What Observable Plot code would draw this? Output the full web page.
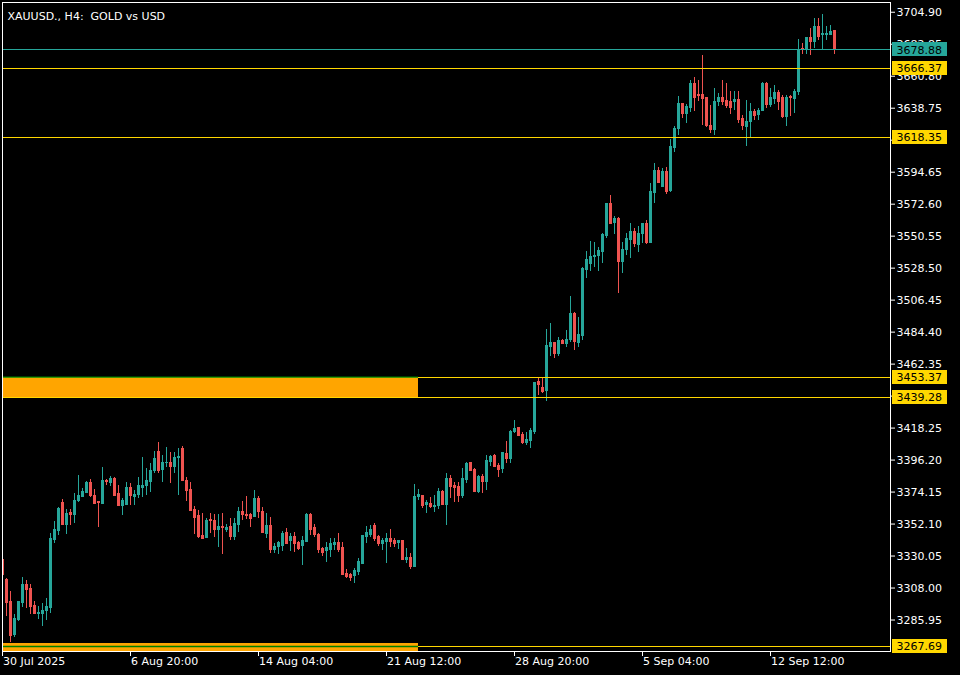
<!DOCTYPE html>
<html>
<head>
<meta charset="utf-8">
<script src="https://cdn.jsdelivr.net/npm/d3@7"></script>
<script src="https://cdn.jsdelivr.net/npm/@observablehq/plot@0.6"></script>
<style>
  html, body { margin: 0; padding: 0; background: #000; }
  #chart { width: 960px; height: 675px; }
  svg text { white-space: pre; }
</style>
</head>
<body>
<div id="chart"></div>
<script>
// XAUUSD H4 bars, oldest first (bar index = position on the time axis)
const open = [
  3326.98,3313.88,3298.71,3275.28,3286.30,3298.02,3310.43,3307.67,3295.27,3290.10,
  3289.96,3292.03,3294.09,3341.45,3347.17,3366.27,3351.79,3360.06,3358.00,3367.65,
  3370.61,3373.85,3380.26,3371.78,3366.96,3365.78,3382.12,3380.74,3383.50,3373.16,
  3364.89,3365.58,3376.81,3370.61,3371.99,3377.09,3377.99,3380.95,3388.53,3402.11,
  3389.50,3394.05,3394.53,3391.29,3397.49,3404.18,3382.12,3375.71,3362.13,3357.31,
  3344.21,3342.62,3355.03,3354.55,3348.14,3349.93,3347.66,3350.41,3343.04,3351.79,
  3360.75,3358.68,3358.00,3356.82,3369.51,3360.75,3345.38,3351.10,3334.35,3335.94,
  3336.63,3345.79,3340.76,3343.04,3338.90,3336.63,3340.07,3358.00,3349.24,3344.90,
  3334.76,3333.87,3334.56,3337.52,3338.90,3335.45,3317.81,3317.32,3315.95,3318.91,
  3324.70,3343.04,3344.69,3350.62,3343.04,3338.02,3339.59,3341.94,3340.28,3338.90,
  3340.28,3327.45,3328.84,3322.84,3370.61,3371.78,3365.37,3366.06,3363.72,3364.41,
  3374.06,3365.58,3383.29,3378.19,3377.50,3371.78,3382.81,3394.32,3389.70,3374.54,
  3384.88,3380.95,3395.22,3399.35,3392.46,3390.19,3400.53,3396.60,3415.42,3418.17,
  3413.83,3408.11,3409.69,3415.90,3449.88,3445.75,3444.16,3474.49,3477.04,3468.98,
  3477.94,3476.35,3479.11,3497.03,3477.25,3482.07,3527.57,3531.02,3536.05,3536.74,
  3539.50,3550.52,3572.38,3559.76,3562.04,3533.08,3540.67,3548.04,3553.28,3544.60,
  3551.70,3559.07,3545.70,3580.17,3595.81,3584.30,3594.44,3581.34,3611.19,3624.08,
  3641.31,3634.42,3638.76,3655.10,3647.86,3648.20,3645.45,3626.63,3623.59,3642.69,
  3645.93,3643.58,3643.17,3643.17,3644.27,3630.97,3625.46,3629.38,3636.28,3633.93,
  3636.69,3655.10,3640.83,3644.96,3649.58,3645.93,3632.83,3646.62,3644.96,3650.06,
  3679.91,3679.91,3686.81,3684.05,3694.87,3689.08,3689.56,3689.56,3691.84
];
const high = [
  3332.49,3314.57,3305.61,3289.75,3299.00,3315.26,3313.19,3310.43,3298.71,3295.27,
  3297.33,3300.78,3345.59,3353.86,3363.51,3369.02,3362.13,3362.13,3373.16,3385.57,
  3376.61,3381.64,3383.02,3375.92,3367.65,3391.29,3383.02,3385.09,3383.99,3378.67,
  3369.71,3380.74,3380.05,3375.23,3384.40,3398.18,3390.39,3393.63,3402.11,3408.11,
  3399.35,3404.66,3401.63,3401.63,3403.97,3405.56,3384.40,3380.95,3364.20,3361.44,
  3359.17,3355.72,3359.17,3358.48,3358.69,3359.17,3351.79,3355.72,3355.72,3363.72,
  3367.85,3371.09,3359.58,3375.23,3371.09,3363.72,3359.17,3356.41,3338.49,3340.07,
  3346.97,3348.83,3345.38,3346.48,3340.07,3343.52,3359.17,3359.17,3351.58,3345.79,
  3336.15,3339.59,3341.94,3341.94,3345.38,3339.59,3320.77,3317.81,3321.67,3328.15,
  3344.21,3350.41,3351.10,3352.69,3344.21,3341.94,3345.79,3348.14,3341.94,3340.76,
  3340.76,3335.04,3331.59,3379.16,3375.71,3372.00,3368.33,3370.61,3371.78,3376.40,
  3375.23,3386.74,3385.57,3380.95,3380.95,3390.19,3394.74,3394.74,3390.60,3385.57,
  3386.26,3399.35,3399.35,3399.84,3393.63,3401.63,3409.21,3416.59,3423.48,3418.86,
  3415.00,3415.42,3417.76,3449.88,3453.33,3452.92,3486.21,3490.14,3477.30,3480.90,
  3479.11,3485.52,3508.96,3497.72,3494.69,3528.74,3539.98,3546.87,3546.39,3542.94,
  3552.18,3573.27,3578.58,3564.10,3563.21,3546.39,3552.59,3559.49,3555.63,3557.21,
  3559.49,3561.35,3587.06,3600.85,3598.09,3596.99,3598.09,3616.98,3626.14,3646.82,
  3641.60,3641.31,3657.85,3659.71,3657.85,3675.09,3646.14,3640.83,3652.34,3648.89,
  3658.06,3655.79,3650.06,3650.06,3650.06,3633.93,3644.27,3642.00,3638.07,3638.55,
  3656.47,3656.47,3652.34,3654.20,3651.17,3647.31,3647.31,3647.31,3651.86,3686.12,
  3683.36,3687.00,3693.70,3700.59,3700.59,3703.35,3694.87,3695.97,3692.53
];
const low = [
  3313.19,3288.37,3270.66,3273.69,3284.93,3294.78,3293.89,3289.75,3289.50,3286.30,
  3281.69,3285.62,3290.44,3338.90,3344.41,3351.50,3344.90,3351.31,3352.69,3366.96,
  3370.40,3373.16,3370.40,3365.58,3349.93,3365.58,3378.67,3377.99,3371.60,3364.70,
  3358.00,3364.89,3364.89,3365.10,3369.71,3370.61,3371.78,3374.06,3386.74,3386.74,
  3380.95,3391.29,3380.26,3386.74,3371.78,3381.43,3367.85,3361.20,3344.69,3341.94,
  3341.24,3341.94,3345.38,3342.62,3336.15,3331.11,3346.28,3340.76,3340.76,3346.48,
  3354.55,3355.03,3349.93,3356.41,3355.72,3345.60,3341.94,3331.59,3331.59,3331.11,
  3333.18,3337.80,3333.18,3332.70,3333.87,3323.53,3339.59,3344.21,3343.04,3331.59,
  3329.73,3325.80,3329.25,3333.87,3332.70,3316.64,3314.36,3312.50,3311.33,3316.64,
  3324.22,3338.90,3343.04,3340.07,3336.63,3333.87,3325.11,3336.15,3336.15,3334.56,
  3327.45,3325.11,3320.77,3322.60,3368.33,3362.61,3359.58,3362.61,3360.27,3362.13,
  3364.89,3351.10,3369.51,3367.16,3367.16,3369.51,3380.26,3388.53,3373.64,3373.37,
  3373.37,3375.23,3391.98,3391.29,3384.40,3387.15,3393.63,3394.05,3414.73,3412.65,
  3406.94,3406.24,3404.39,3413.62,3440.71,3442.30,3436.79,3467.60,3466.43,3467.60,
  3475.66,3474.01,3477.46,3471.73,3474.01,3478.63,3521.57,3526.40,3529.16,3526.40,
  3531.91,3549.15,3558.59,3551.70,3511.23,3524.61,3537.22,3534.95,3542.53,3539.50,
  3545.70,3544.80,3545.50,3573.27,3586.80,3583.89,3579.27,3580.86,3608.43,3619.94,
  3631.45,3628.01,3636.00,3636.48,3643.38,3626.83,3625.66,3621.32,3620.15,3639.72,
  3640.83,3638.55,3634.42,3637.38,3628.21,3623.59,3612.56,3617.87,3630.49,3630.49,
  3636.28,3638.55,3639.03,3641.31,3637.38,3631.66,3625.94,3632.83,3635.11,3647.31,
  3675.78,3675.78,3674.88,3679.91,3685.63,3679.43,3685.63,3689.08,3675.78
];
const close = [
  3316.64,3298.02,3274.79,3286.99,3298.71,3310.43,3306.98,3294.78,3289.96,3291.13,
  3292.51,3294.78,3341.66,3347.66,3362.61,3351.79,3359.37,3358.68,3368.33,3371.30,
  3374.06,3380.26,3371.30,3365.78,3366.27,3382.12,3381.43,3383.50,3371.78,3364.89,
  3367.85,3376.81,3371.78,3372.47,3377.99,3378.67,3381.64,3389.01,3397.08,3389.01,
  3394.32,3394.53,3391.29,3397.77,3398.18,3381.64,3375.23,3361.44,3356.41,3343.52,
  3341.94,3354.55,3354.07,3348.14,3350.41,3349.24,3349.72,3343.04,3352.27,3360.75,
  3358.00,3357.51,3355.72,3369.51,3360.27,3345.79,3351.10,3334.35,3336.15,3339.38,
  3345.38,3338.02,3343.04,3338.02,3335.04,3340.76,3358.48,3348.14,3344.69,3334.35,
  3332.49,3335.45,3338.02,3339.18,3334.35,3317.32,3315.46,3315.05,3319.60,3325.80,
  3343.73,3345.79,3348.34,3341.94,3338.02,3340.28,3341.94,3339.59,3338.02,3340.28,
  3327.66,3328.84,3322.84,3371.09,3372.47,3364.89,3366.47,3363.72,3364.89,3374.06,
  3365.37,3383.29,3377.50,3377.09,3371.78,3383.29,3393.63,3389.01,3374.54,3384.88,
  3380.95,3395.91,3398.18,3391.77,3389.70,3400.94,3396.60,3415.90,3417.28,3413.14,
  3408.11,3410.38,3416.59,3449.47,3447.61,3442.99,3475.18,3477.04,3468.98,3477.94,
  3476.35,3479.11,3497.03,3477.46,3482.56,3528.05,3534.26,3536.53,3537.22,3540.19,
  3551.01,3572.38,3559.07,3562.04,3532.60,3541.15,3548.73,3553.28,3545.29,3552.18,
  3559.07,3545.70,3580.86,3595.33,3587.06,3594.44,3580.86,3611.88,3624.56,3641.31,
  3634.90,3639.45,3655.10,3646.13,3647.17,3644.76,3626.63,3623.59,3643.17,3645.93,
  3643.17,3640.41,3639.24,3644.27,3630.49,3626.63,3629.38,3636.28,3633.52,3636.69,
  3655.10,3640.83,3645.45,3649.58,3643.17,3632.83,3645.93,3645.45,3650.06,3678.74,
  3678.74,3686.81,3684.05,3694.87,3687.98,3690.25,3690.25,3691.42,3678.88
];

// Time axis: a label every 32 bars
const timeTicks = [0, 32, 64, 96, 128, 160, 192];
const timeLabels = ["30 Jul 2025", "6 Aug 20:00", "14 Aug 04:00", "21 Aug 12:00",
                    "28 Aug 20:00", "5 Sep 04:00", "12 Sep 12:00"];

// Price scale grid (step 22.05)
const priceTicks = [3285.95, 3308.00, 3330.05, 3352.10, 3374.15, 3396.20, 3418.25,
                    3440.30, 3462.35, 3484.40, 3506.45, 3528.50, 3550.55, 3572.60,
                    3594.65, 3616.70, 3638.75, 3660.80, 3682.85, 3704.90];
const priceRange = [3264.25, 3711.62];

// Horizontal levels: current bid plus support / resistance lines
const levelPrices = [3678.88, 3666.37, 3618.35, 3453.37, 3439.28, 3267.69];
const levelColors = ["#26a69a", "#ffd700", "#ffd700", "#ffd700", "#ffd700", "#ffd700"];

// Supply/demand zones drawn from the first bar to the zone end bar
const zoneTop = [3453.37, 3270.10];
const zoneBottom = [3439.28, 3264.25];
const zoneEdge = [3453.37, 3267.69];
const zoneStartBar = 0;
const zoneEndBar = 104;

const BULL = "#26a69a";
const BEAR = "#ef5350";
const LAST_SLOT = 222; // bar slot at the right edge of the price area
const CRISP = "crispEdges";

const candles = open.map((o, i) => ({i, o, h: high[i], l: low[i], c: close[i]}));
const levels = levelPrices.map((v, k) => ({v, color: levelColors[k]}));
const zones = zoneTop.map((t, k) => ({t, b: zoneBottom[k], edge: zoneEdge[k]}));
const candleColor = d => d.c >= d.o ? BULL : BEAR;

const chart = Plot.plot({
  width: 960,
  height: 675,
  marginLeft: 2,
  marginTop: 2,
  marginRight: 70,
  marginBottom: 24,
  style: {
    background: "#000",
    color: "#fff",
    fontFamily: "DejaVu Sans, sans-serif",
    fontSize: "11px"
  },
  x: {
    domain: [0, LAST_SLOT],
    ticks: timeTicks,
    tickFormat: () => "",
    tickSize: 5,
    label: null
  },
  y: {
    domain: priceRange,
    axis: "right",
    ticks: priceTicks,
    tickFormat: d => d.toFixed(2),
    tickSize: 4,
    tickPadding: 2,
    label: null
  },
  marks: [
    // zones
    Plot.rect(zones, {
      x1: () => zoneStartBar, x2: () => zoneEndBar,
      y1: "b", y2: "t",
      fill: "#ffa500", clip: true, shapeRendering: CRISP
    }),
    // candles: wicks then bodies
    Plot.ruleX(candles, {x: "i", y1: "l", y2: "h", stroke: candleColor, clip: true, shapeRendering: CRISP}),
    Plot.rect(candles, {
      x1: d => d.i - 0.375, x2: d => d.i + 0.375,
      y1: "o", y2: "c",
      insetTop: -0.5, insetBottom: -0.5,
      fill: candleColor, clip: true, shapeRendering: CRISP
    }),
    // horizontal levels
    Plot.ruleY(levels, {y: "v", stroke: "color", shapeRendering: CRISP}),
    // zone edge lines
    Plot.ruleY(zones, {
      y: "edge", x1: () => zoneStartBar, x2: () => zoneEndBar,
      stroke: "#008000", strokeWidth: 1.3
    }),
    Plot.frame({stroke: "#fff", shapeRendering: CRISP}),
    // price tags on the scale
    Plot.rect(levels, {
      x1: () => LAST_SLOT, x2: () => LAST_SLOT,
      y1: "v", y2: "v",
      insetLeft: 2, insetRight: -57, insetTop: -7, insetBottom: -7,
      fill: "color", shapeRendering: CRISP
    }),
    Plot.text(levels, {
      x: () => LAST_SLOT, y: "v",
      text: d => d.v.toFixed(2),
      textAnchor: "start", dx: 6,
      fill: "#000"
    }),
    // time labels
    Plot.text(timeTicks, {
      x: d => d,
      text: (d, k) => timeLabels[k],
      frameAnchor: "bottom",
      textAnchor: "start",
      dy: 13, dx: 0.5,
      fill: "#fff"
    }),
    // chart caption
    Plot.text(["XAUUSD., H4:  GOLD vs USD"], {
      frameAnchor: "top-left",
      textAnchor: "start",
      dx: 5, dy: 10,
      fill: "#fff"
    })
  ]
});

document.getElementById("chart").appendChild(chart);
</script>
</body>
</html>
